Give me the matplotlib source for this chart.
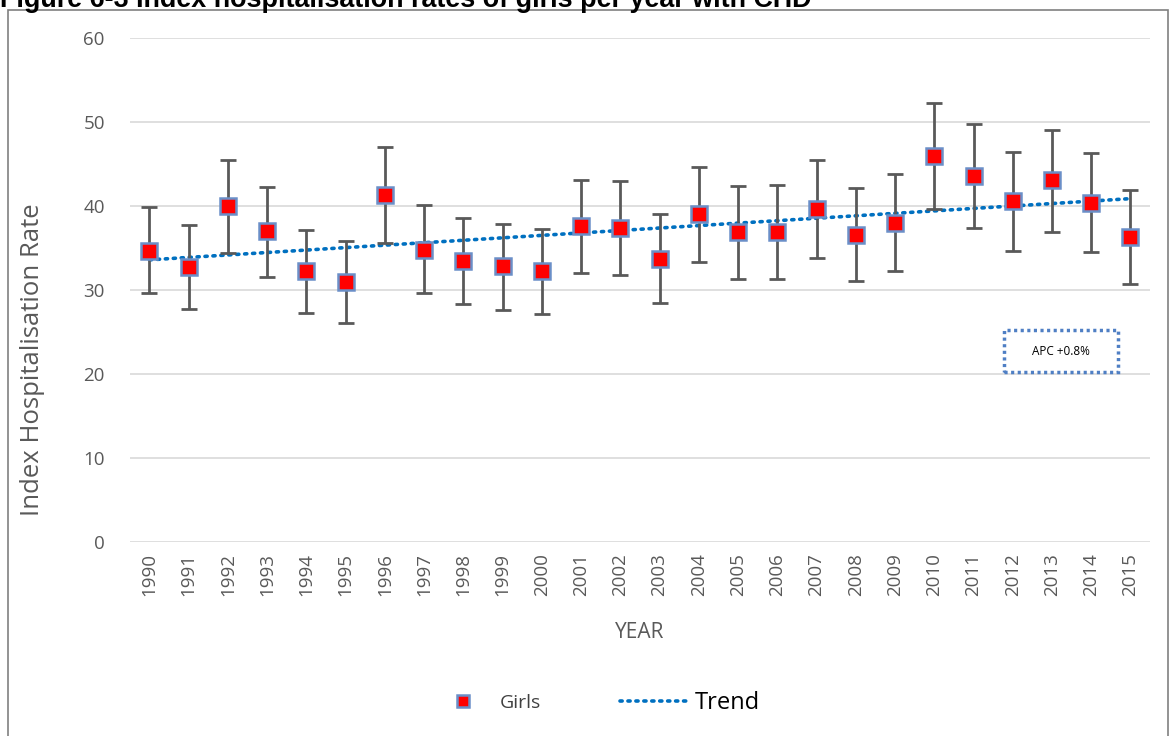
import numpy as np
import matplotlib.pyplot as plt
from matplotlib.lines import Line2D
from matplotlib.patches import Rectangle

years = [str(y) for y in range(1990, 2016)]
rate = [34.7, 32.7, 40.0, 37.0, 32.3, 31.0, 41.3, 34.8, 33.4, 32.8, 32.3, 37.6, 37.4,
        33.7, 39.0, 36.9, 36.9, 39.6, 36.6, 38.0, 46.0, 43.6, 40.6, 43.1, 40.4, 36.3]
upper = [39.9, 37.7, 45.5, 42.3, 37.2, 35.8, 47.0, 40.1, 38.6, 37.8, 37.3, 43.1, 43.0,
         39.0, 44.7, 42.4, 42.5, 45.5, 42.2, 43.8, 52.3, 49.7, 46.4, 49.1, 46.3, 41.9]
lower = [29.6, 27.7, 34.4, 31.6, 27.3, 26.1, 35.6, 29.6, 28.3, 27.6, 27.2, 32.0, 31.8,
         28.4, 33.3, 31.3, 31.3, 33.8, 31.1, 32.3, 39.6, 37.4, 34.6, 36.9, 34.5, 30.7]

plt.rcParams['font.family'] = ['Open Sans', 'DejaVu Sans']
grey = '#595959'
dots = (0, (0.6, 1.6))

fig = plt.figure(figsize=(11.7, 7.36), dpi=100)
ax = fig.add_axes([0.111, 0.2636, 0.872, 0.6848])

x = np.arange(len(years))
r = np.array(rate)
yerr = [r - np.array(lower), np.array(upper) - r]

# trend line (linear fit, like Excel)
k, b = np.polyfit(x, r, 1)
ax.plot(x, k * x + b, color='#0070C0', lw=2.6, linestyle=dots,
        dash_capstyle='round', zorder=2)

ax.errorbar(x, r, yerr=yerr, fmt='none', ecolor=grey, elinewidth=2,
            capsize=5.5, capthick=2, zorder=3)
ax.plot(x, r, 's', color='red', markersize=11, markeredgecolor='#6a8fc8',
        markeredgewidth=1.8, zorder=4)

ax.set_xlim(-0.5, len(years) - 0.5)
ax.set_ylim(0, 60)
ax.set_yticks(range(0, 61, 10))
ax.set_xticks(x)
ax.set_xticklabels(years, rotation=90)
ax.tick_params(axis='both', length=0, labelsize=13.5, colors=grey)
ax.tick_params(axis='y', pad=18)
ax.tick_params(axis='x', pad=8)
ax.grid(axis='y', color='#d9d9d9', lw=1.2)
ax.set_axisbelow(True)
for s in ax.spines.values():
    s.set_visible(False)

fig.text(33 / 1170, 1 - 360 / 736, 'Index Hospitalisation Rate', rotation=90,
         ha='center', va='center', fontsize=18.5, color=grey)
fig.text(640 / 1170, 1 - 632 / 736, 'YEAR', ha='center', va='center',
         fontsize=15, color=grey)

# APC box
ax.add_patch(Rectangle((21.77, 20.2), 2.92, 5.0, fill=False, edgecolor='#4f7fc4',
                       lw=2.5, linestyle=(0, (0.9, 1.0)), zorder=5))
ax.text(23.23, 22.7, 'APC +0.8%', ha='center', va='center', fontsize=8.5, color='black')

# legend
h1 = Line2D([], [], marker='s', linestyle='none', color='red', markersize=9,
            markeredgecolor='#6a8fc8', markeredgewidth=1.8)
h2 = Line2D([], [], color='#0070C0', lw=2.6, linestyle=dots, dash_capstyle='round')
leg1 = fig.legend([h1], ['Girls'], loc='center left', bbox_to_anchor=(453 / 1170, 0.045),
                  frameon=False, handlelength=1.0, handletextpad=1.4, fontsize=14,
                  borderaxespad=0, borderpad=0)
leg1.get_texts()[0].set_color('#404040')
leg2 = fig.legend([h2], ['Trend'], loc='center left', bbox_to_anchor=(620 / 1170, 0.045),
                  frameon=False, handlelength=2.9, handletextpad=0.25, fontsize=17,
                  borderaxespad=0, borderpad=0)

# outer border and title (partly cut at the top, as in the source)
fig.patches.append(Rectangle((8 / 1170, -0.01), 1160 / 1170, 1 - 9.5 / 736 + 0.01,
                             transform=fig.transFigure, fill=False,
                             edgecolor='#808080', lw=1.2))
fig.text(0.0, 1 - 7 / 736, 'Figure 6-3 Index hospitalisation rates of girls per year with CHD',
         fontsize=19.4, fontweight='bold', family='Liberation Sans', va='baseline', ha='left')

fig.savefig('out.png', dpi=100)
